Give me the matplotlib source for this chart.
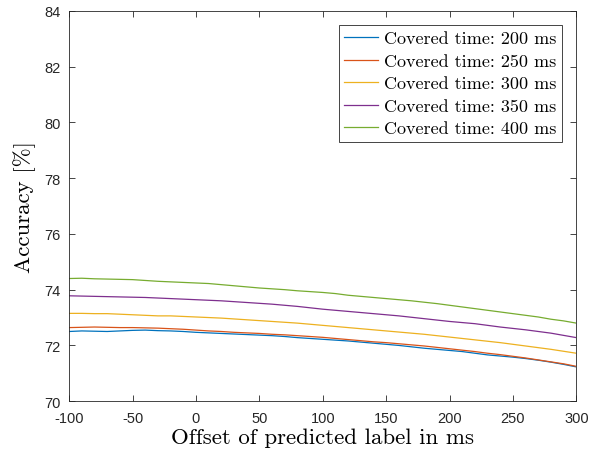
import numpy as np
import matplotlib
matplotlib.use("Agg")
import matplotlib.pyplot as plt

# offsets in ms, one sample every 10 ms
offsets = list(range(-100, 301, 10))

acc_200 = [72.50, 72.52, 72.51, 72.50, 72.52, 72.54, 72.55, 72.53, 72.52, 72.50,
           72.47, 72.45, 72.43, 72.41, 72.39, 72.37, 72.35, 72.32, 72.28, 72.25,
           72.22, 72.19, 72.16, 72.12, 72.08, 72.04, 72.00, 71.95, 71.90, 71.86,
           71.82, 71.78, 71.72, 71.66, 71.62, 71.58, 71.53, 71.47, 71.40, 71.32,
           71.23]
acc_250 = [72.64, 72.65, 72.66, 72.65, 72.64, 72.64, 72.63, 72.62, 72.60, 72.58,
           72.55, 72.52, 72.50, 72.47, 72.45, 72.43, 72.40, 72.38, 72.35, 72.32,
           72.29, 72.25, 72.21, 72.17, 72.13, 72.10, 72.06, 72.02, 71.98, 71.93,
           71.88, 71.83, 71.78, 71.72, 71.67, 71.61, 71.55, 71.48, 71.41, 71.34,
           71.25]
acc_300 = [73.15, 73.15, 73.14, 73.14, 73.12, 73.10, 73.08, 73.06, 73.06, 73.04,
           73.02, 73.00, 72.98, 72.95, 72.92, 72.89, 72.86, 72.83, 72.80, 72.76,
           72.72, 72.68, 72.64, 72.60, 72.56, 72.52, 72.48, 72.44, 72.40, 72.35,
           72.30, 72.25, 72.20, 72.15, 72.10, 72.04, 71.98, 71.92, 71.86, 71.79,
           71.72]
acc_350 = [73.78, 73.77, 73.76, 73.75, 73.74, 73.73, 73.72, 73.70, 73.68, 73.66,
           73.64, 73.62, 73.60, 73.57, 73.54, 73.51, 73.48, 73.44, 73.40, 73.35,
           73.30, 73.26, 73.22, 73.18, 73.14, 73.10, 73.06, 73.01, 72.96, 72.91,
           72.86, 72.82, 72.78, 72.72, 72.66, 72.61, 72.56, 72.50, 72.44, 72.36,
           72.28]
acc_400 = [74.40, 74.41, 74.39, 74.38, 74.37, 74.36, 74.33, 74.30, 74.28, 74.26,
           74.24, 74.22, 74.18, 74.14, 74.10, 74.06, 74.03, 74.00, 73.96, 73.93,
           73.90, 73.86, 73.80, 73.76, 73.72, 73.68, 73.64, 73.60, 73.55, 73.50,
           73.44, 73.38, 73.32, 73.26, 73.20, 73.14, 73.08, 73.02, 72.94, 72.88,
           72.80]

series = [
    ("Covered time: 200 ms", acc_200, (0.000, 0.447, 0.741)),
    ("Covered time: 250 ms", acc_250, (0.850, 0.325, 0.098)),
    ("Covered time: 300 ms", acc_300, (0.929, 0.694, 0.125)),
    ("Covered time: 350 ms", acc_350, (0.494, 0.184, 0.556)),
    ("Covered time: 400 ms", acc_400, (0.466, 0.674, 0.188)),
]

plt.rcParams['font.family'] = ['Liberation Sans', 'DejaVu Sans']
plt.rcParams['axes.unicode_minus'] = False
latex_font = {'family': 'cmr10'}

fig = plt.figure(figsize=(5.96, 4.56), dpi=100)
# axes box: x 69..576 px, y 12..402 px
ax = fig.add_axes([0.116, 0.118, 0.851, 0.856])

for label, vals, col in series:
    ax.plot(offsets, vals, color=col, linewidth=0.9, label=label)

ax.set_xlim(-100, 300)
ax.set_ylim(70, 84)
ax.set_xticks(np.arange(-100, 301, 50))
ax.set_yticks(np.arange(70, 85, 2))
ax.tick_params(direction='in', top=True, right=True, labelsize=10.5, length=4,
               width=0.6, colors='#262626')
ax.tick_params(axis='x', pad=7)
ax.tick_params(axis='y', pad=6)
for s in ax.spines.values():
    s.set_linewidth(0.6)
    s.set_color('#262626')

ax.set_xlabel("Offset of predicted label in ms", fontsize=16.5, fontdict=latex_font, labelpad=2)
ax.set_ylabel("Accuracy [%]", fontsize=16.5, fontdict=latex_font, labelpad=6)

leg = ax.legend(loc='upper right', prop={'family': 'cmr10', 'size': 13},
                fancybox=False, edgecolor='#262626', framealpha=1,
                handlelength=1.85, handletextpad=0.35, labelspacing=0.38,
                borderpad=0.3, borderaxespad=0.8)
leg.get_frame().set_linewidth(0.6)

fig.savefig("out.png", dpi=100)
